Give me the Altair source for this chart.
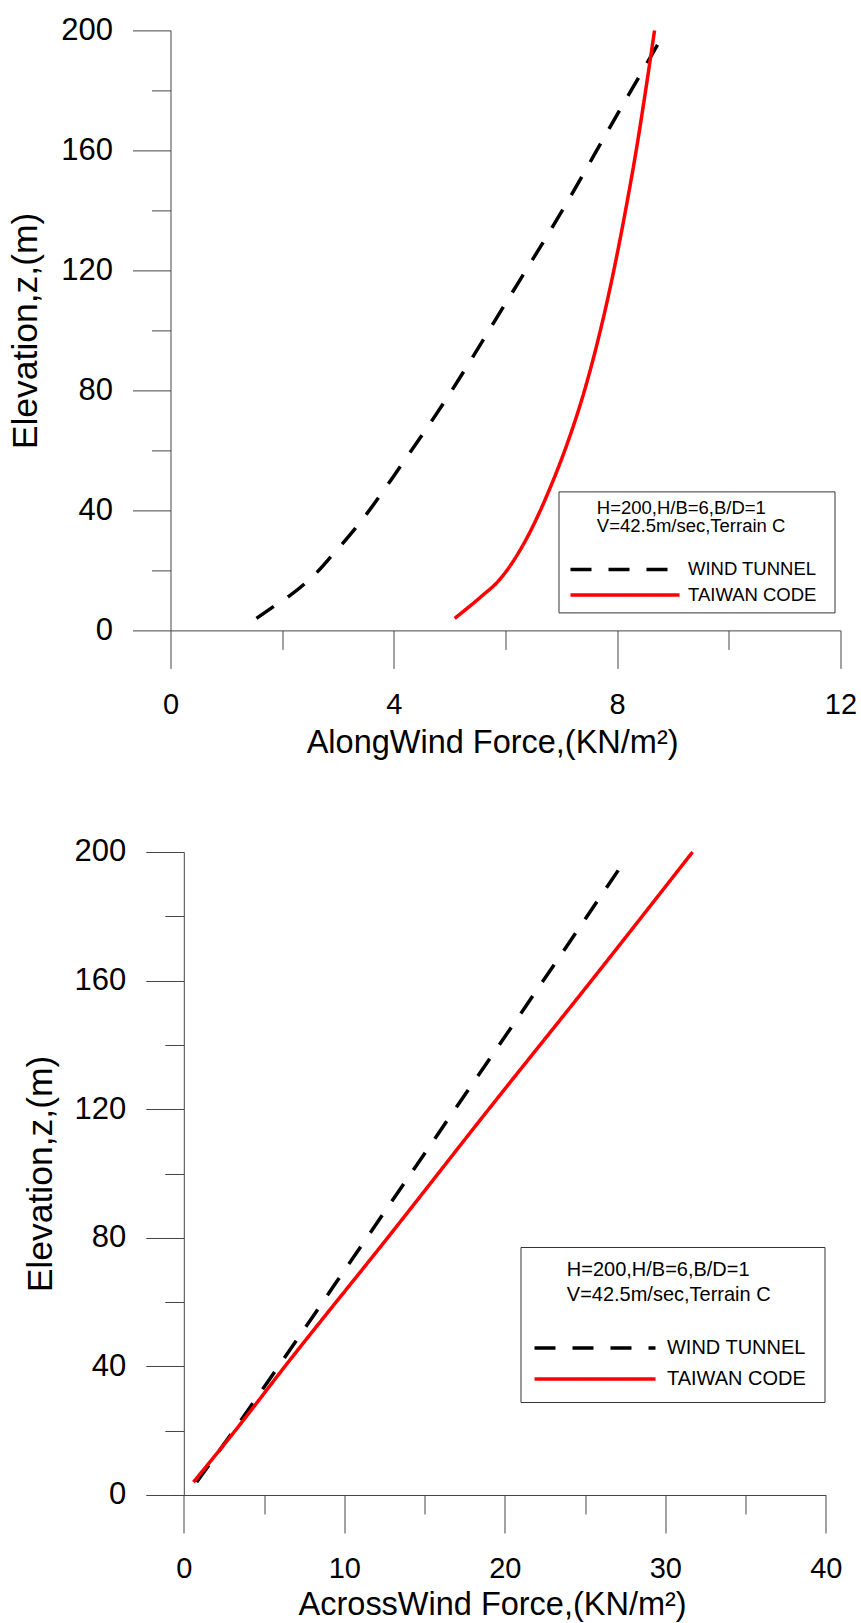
import altair as alt
import pandas as pd

# ---------------- data ----------------
SERIES = ["WIND TUNNEL", "TAIWAN CODE"]
SERIES_COLORS = ["#000000", "#ff0000"]
SERIES_DASHES = [[21, 17], [1, 0]]

# Along-wind force profile (top panel)
along_wt_height = [4, 8, 11.5, 15.5, 19.5, 24.5, 34, 39, 55, 76, 109, 141, 169, 197]
along_wt_force = [1.54, 1.85, 2.13, 2.40, 2.63, 2.87, 3.31, 3.52, 4.13, 4.90, 6.00, 7.05, 7.91, 8.78]
along_tc_height = [4, 12, 16, 29, 48, 63, 79, 97, 120, 140, 161, 180, 200]
along_tc_force = [5.09, 5.61, 5.85, 6.33, 6.81, 7.12, 7.40, 7.66, 7.94, 8.15, 8.35, 8.51, 8.67]

# Across-wind force profile (bottom panel)
across_wt_height = [4, 20, 40, 80, 120, 160, 196]
across_wt_force = [0.8, 3.1, 5.9, 11.4, 16.9, 22.4, 27.3]
across_tc_height = [4, 20, 40, 80, 120, 160, 200]
across_tc_force = [0.6, 3.2, 6.3, 12.7, 19.0, 25.4, 31.7]

# axis ticks
elev_ticks = [0, 20, 40, 60, 80, 100, 120, 140, 160, 180, 200]
along_ticks = [0, 2, 4, 6, 8, 10, 12]
across_ticks = [0, 5, 10, 15, 20, 25, 30, 35, 40]

legend_lines = ["H=200,H/B=6,B/D=1", "V=42.5m/sec,Terrain C"]

NB = "\u00a0"   # no-break space
ZW = "\u200b"   # zero-width guard so the spaces are not trimmed


def indented(lines, n):
    return [ZW + NB * n + s for s in lines]


def frame(rows):
    out = []
    for name, hs, fs in rows:
        out.append(pd.DataFrame({"series": name, "height": hs, "force": fs}))
    return pd.concat(out, ignore_index=True)


top_df = frame([(SERIES[0], along_wt_height, along_wt_force),
                (SERIES[1], along_tc_height, along_tc_force)])
bot_df = frame([(SERIES[0], across_wt_height, across_wt_force),
                (SERIES[1], across_tc_height, across_tc_force)])

SANS = "Liberation Sans, Arial, sans-serif"
AXIS_COLOR = "#444444"


def y_axis(title_pad, offset=0):
    return alt.Axis(
        values=elev_ticks,
        labelExpr="datum.value % 40 === 0 ? datum.label : ''",
        tickSize={"condition": {"test": "datum.value % 40 === 0", "value": 38}, "value": 19},
        labelFont=SANS, labelFontSize=31, labelColor="black", labelPadding=20,
        labelOverlap=False, labelFlush=False,
        title="Elevation,z,(m)", titleFont=SANS, titleFontSize=35.5,
        titleFontWeight="normal", titleColor="black", titlePadding=title_pad,
        grid=False, domainColor=AXIS_COLOR, tickColor=AXIS_COLOR,
        domainWidth=1, tickWidth=1, offset=offset,
    )


def x_axis(ticks, major, title, label_pad, title_pad, title_x):
    return alt.Axis(
        values=ticks,
        labelExpr=f"datum.value % {major} === 0 ? datum.label : ''",
        tickSize={"condition": {"test": f"datum.value % {major} === 0", "value": 38}, "value": 19},
        labelFont=SANS, labelFontSize=29, labelColor="black", labelPadding=label_pad,
        labelOverlap=False, labelFlush=False,
        title=title, titleFont=SANS, titleFontSize=32.5,
        titleFontWeight="normal", titleColor="black", titlePadding=title_pad,
        titleX=title_x,
        grid=False, domainColor=AXIS_COLOR, tickColor=AXIS_COLOR,
        domainWidth=1, tickWidth=1,
    )


def legend(x, y, fs, line_h, title_pad, indent, sym_len, sym_off, label_off, trail, row_pad, pad):
    return alt.Legend(
        title=indented(legend_lines, indent), orient="none", legendX=x, legendY=y,
        direction="vertical", strokeColor="#333333", fillColor="white", padding=pad,
        titleFont=SANS, titleFontSize=fs, titleFontWeight="normal", titleColor="black",
        titleAnchor="start", titleAlign="left", titleLineHeight=line_h,
        titlePadding=title_pad, titleLimit=500,
        labelFont=SANS, labelFontSize=fs, labelColor="black", labelOffset=label_off,
        labelLimit=500, labelExpr="datum.label + '" + NB * trail + ZW + "'",
        symbolType="stroke", symbolSize=sym_len * sym_len, symbolStrokeWidth=3.5,
        symbolOffset=sym_off, clipHeight=fs, rowPadding=row_pad,
    )


LEFT_EXTENT = 170  # distance of the (shared) plot-area left edge from the canvas edge


def panel(df, xdom, xaxis, yaxis, leg, w, h):
    base = alt.Chart(df).mark_line(strokeWidth=3.5, interpolate="monotone", strokeCap="butt").encode(
        x=alt.X("force:Q", scale=alt.Scale(domain=xdom, nice=False, zero=False), axis=xaxis),
        y=alt.Y("height:Q", scale=alt.Scale(domain=[0, 200], nice=False), axis=yaxis),
        color=alt.Color("series:N", scale=alt.Scale(domain=SERIES, range=SERIES_COLORS), legend=leg),
        strokeDash=alt.StrokeDash("series:N", scale=alt.Scale(domain=SERIES, range=SERIES_DASHES), legend=leg),
        order=alt.Order("height:Q"),
    )
    # white (invisible) layout spacer: fixes the left extent of each panel
    spacer = alt.Chart(alt.Data(values=[{"k": 0}])).mark_rule(color="white", strokeWidth=1).encode(
        x=alt.value(-LEFT_EXTENT), x2=alt.value(-LEFT_EXTENT + 1), y=alt.value(0), y2=alt.value(1)
    )
    return alt.layer(base, spacer).properties(width=w, height=h)


# bottom panel: its vertical axis sits 13.3 px to the right of the shared left edge,
# so the x scale starts slightly below zero and the y axis is moved onto x = 0
BOT_PX_PER_UNIT = 642 / 40
BOT_SHIFT = 13.3
bot_xmin = -BOT_SHIFT / BOT_PX_PER_UNIT

top = panel(
    top_df, [0, 12],
    x_axis(along_ticks, 4, "AlongWind Force,(KN/m\u00b2)", 22, 7, 321.6),
    y_axis(17),
    legend(388, 461, 18.5, 18, 24.75, 6, 109, 2.5, 6.5, 2, 6.5, 7.5),
    670, 600,
)

bottom = panel(
    bot_df, [bot_xmin, 40],
    x_axis(across_ticks, 10, "AcrossWind Force,(KN/m\u00b2)", 22, 5, 321.6),
    y_axis(16, offset=-BOT_SHIFT),
    legend(350, 395, 20, 25, 33, 6, 121, -1, 9.5, 1, 11, 13),
    642 + BOT_SHIFT, 643,
)

chart = alt.vconcat(top, bottom, spacing=76.6).properties(
    padding={"left": -0.5, "top": 14.4, "right": 0, "bottom": 0},
    background="white",
).configure_view(stroke=None).resolve_scale(
    color="independent", strokeDash="independent", x="independent", y="independent"
)

chart.save("out.html", embed_options={"renderer": "svg", "actions": False})
